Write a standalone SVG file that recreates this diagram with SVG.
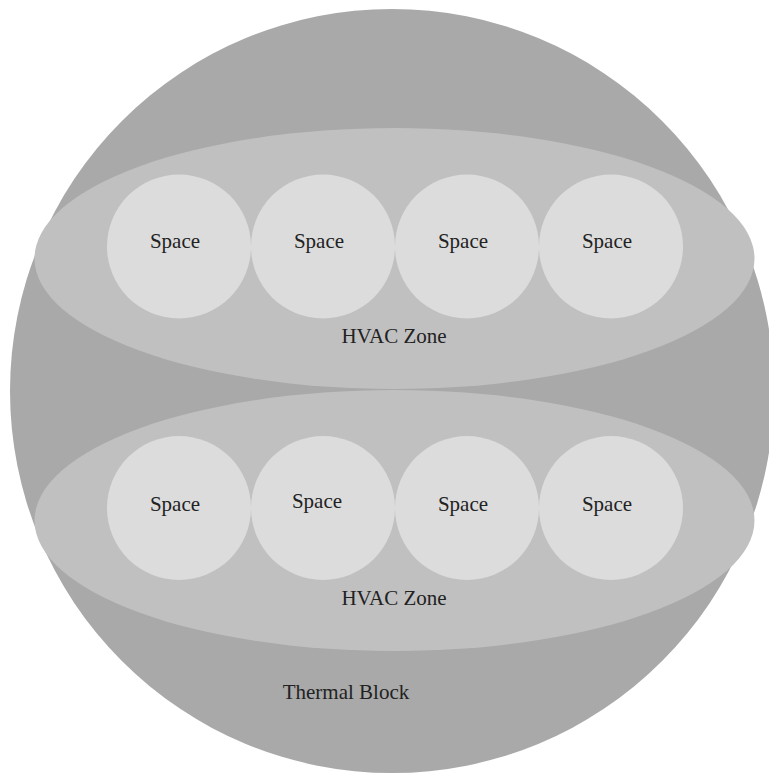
<svg xmlns="http://www.w3.org/2000/svg" width="769" height="776" viewBox="0 0 769 776">
<style>
.block{fill:#a9a9a9}
.zone{fill:#c0c0c0}
.space{fill:#dcdcdc}
text{font-family:"Liberation Serif","Times New Roman",serif;font-size:21px;fill:#222;text-anchor:middle}
</style>
<rect width="769" height="776" fill="#fff"/>
<g id="thermal-block">
<circle class="block" cx="392" cy="391" r="382"/>
<text x="346" y="699">Thermal Block</text>
</g>
<g id="zone1">
<ellipse class="zone" cx="394.5" cy="258.5" rx="360" ry="130.5"/>
<text x="394" y="343">HVAC Zone</text>
</g>
<g id="zone2">
<ellipse class="zone" cx="394.5" cy="520.5" rx="360" ry="130.5"/>
<text x="394" y="605">HVAC Zone</text>
</g>
<g id="space1"><circle class="space" cx="179" cy="246.5" r="72"/><text x="175" y="248">Space</text></g>
<g id="space2"><circle class="space" cx="323" cy="246.5" r="72"/><text x="319" y="248">Space</text></g>
<g id="space3"><circle class="space" cx="467" cy="246.5" r="72"/><text x="463" y="248">Space</text></g>
<g id="space4"><circle class="space" cx="611" cy="246.5" r="72"/><text x="607" y="248">Space</text></g>
<g id="space5"><circle class="space" cx="179" cy="508" r="72"/><text x="175" y="511">Space</text></g>
<g id="space6"><circle class="space" cx="323" cy="508" r="72"/><text x="317" y="508">Space</text></g>
<g id="space7"><circle class="space" cx="467" cy="508" r="72"/><text x="463" y="511">Space</text></g>
<g id="space8"><circle class="space" cx="611" cy="508" r="72"/><text x="607" y="511">Space</text></g>
<g id="connectors"/>
</svg>
